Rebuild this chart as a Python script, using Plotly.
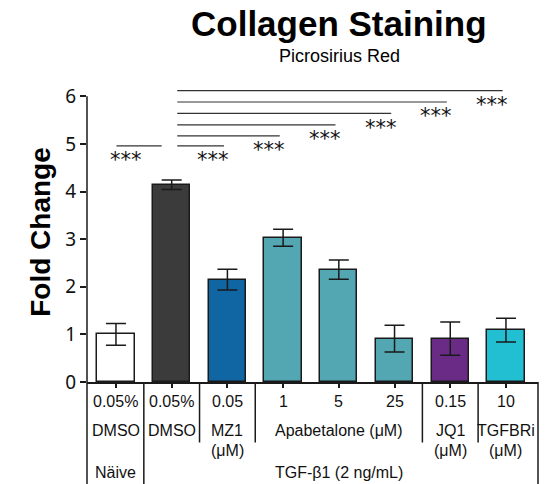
import plotly.graph_objects as go

# ---- data ----
groups = ["Näive DMSO", "TGF DMSO", "MZ1", "Apa 1", "Apa 5", "Apa 25", "JQ1", "TGFBRi"]
fold_change = [1.00, 4.14, 2.15, 3.03, 2.36, 0.91, 0.91, 1.09]
sem = [0.23, 0.10, 0.22, 0.18, 0.20, 0.28, 0.35, 0.25]
bar_colors = ["#ffffff", "#3b3b3b", "#0f66a3", "#52a7b3", "#52a7b3", "#52a7b3", "#6a2b87", "#22bfd3"]

dose_labels = ["0.05%", "0.05%", "0.05", "1", "5", "25", "0.15", "10"]
# (label, first index, last index, second line)
compound_labels = [("DMSO", 0, 0, None), ("DMSO", 1, 1, None), ("MZ1", 2, 2, "(μM)"),
                   ("Apabetalone (μM)", 3, 5, None), ("JQ1", 6, 6, "(μM)"), ("TGFBRi", 7, 7, "(μM)")]
condition_labels = [("Näive", 0, 0), ("TGF-β1 (2 ng/mL)", 1, 7)]

# significance comparisons: (from index, to index, bar height)
sig_pairs = [(0, 1, 4.96), (1, 2, 4.96), (1, 3, 5.17), (1, 4, 5.40), (1, 5, 5.64), (1, 6, 5.88), (1, 7, 6.12)]
sig_text = "***"

y_ticks = [0, 1, 2, 3, 4, 5, 6]

# ---- layout geometry ----
W, H = 553, 484
ML, MR, MT, MB = 87, 15, 82, 102
x_range = [-0.52, 7.575]
y_range = [0, 6.3]
ph = H - MT - MB

def py_to_paper(py):
    return (H - MB - py) / ph

ink = "#1a1a1a"
x = list(range(len(groups)))

fig = go.Figure()
fig.add_trace(go.Bar(
    x=x, y=fold_change, width=0.67,
    marker=dict(color=bar_colors, line=dict(color=ink, width=1.5)),
    error_y=dict(type="data", array=sem, visible=True, color=ink, thickness=1.5, width=10),
    showlegend=False, hoverinfo="skip",
))

shapes = []
annotations = []

# y axis line (0..6) and its extension down through the label table
shapes.append(dict(type="line", xref="paper", yref="y", x0=0, x1=0, y0=0, y1=max(y_ticks),
                   line=dict(color=ink, width=1.5)))
shapes.append(dict(type="line", xref="paper", yref="paper", x0=0, x1=0, y0=0, y1=py_to_paper(484),
                   line=dict(color=ink, width=1.5)))
shapes.append(dict(type="line", xref="paper", yref="paper", x0=1, x1=1, y0=0, y1=py_to_paper(484),
                   line=dict(color=ink, width=1.5)))

# separators between label groups
long_seps = [0.5]
short_seps = [1.5, 2.5, 5.5, 6.5]
for s in long_seps:
    shapes.append(dict(type="line", xref="x", yref="paper", x0=s, x1=s, y0=0, y1=py_to_paper(484),
                       line=dict(color=ink, width=1.5)))
for s in short_seps:
    shapes.append(dict(type="line", xref="x", yref="paper", x0=s, x1=s, y0=0, y1=py_to_paper(442.5),
                       line=dict(color=ink, width=1.5)))

lab_font = dict(family="Liberation Sans, Arial", size=16, color="#111111")
for i, t in enumerate(dose_labels):
    annotations.append(dict(x=i, y=py_to_paper(401), xref="x", yref="paper", text=t,
                            showarrow=False, font=lab_font, xanchor="center", yanchor="middle"))
for t, a, b, t2 in compound_labels:
    annotations.append(dict(x=(a + b) / 2, y=py_to_paper(430), xref="x", yref="paper", text=t,
                            showarrow=False, font=lab_font, xanchor="center", yanchor="middle"))
    if t2:
        annotations.append(dict(x=(a + b) / 2, y=py_to_paper(450), xref="x", yref="paper", text=t2,
                                showarrow=False, font=lab_font, xanchor="center", yanchor="middle"))
for t, a, b in condition_labels:
    annotations.append(dict(x=(a + b) / 2, y=py_to_paper(473), xref="x", yref="paper", text=t,
                            showarrow=False, font=lab_font, xanchor="center", yanchor="middle"))

# significance bars
for a, b, h in sig_pairs:
    x0 = a + (0.01 if a == 0 else 0.1)
    x1 = b - (0.18 if a == 0 else 0.06)
    shapes.append(dict(type="line", xref="x", yref="y", x0=x0, x1=x1, y0=h, y1=h,
                       line=dict(color="#333333", width=1.2)))
    sx = 0.18 if a == 0 else b - 0.25
    annotations.append(dict(x=sx, y=h - 0.30, xref="x", yref="y", text=sig_text, showarrow=False,
                            font=dict(family="DejaVu Sans", size=21, color="#111111"),
                            xanchor="center", yanchor="middle"))

# titles
annotations.append(dict(x=(339 - ML) / (W - ML - MR), y=py_to_paper(24), xref="paper", yref="paper",
                        text="<b>Collagen Staining</b>", showarrow=False,
                        font=dict(family="Liberation Sans, Arial", size=35, color="#000000"),
                        xanchor="center", yanchor="middle"))
annotations.append(dict(x=(339 - ML) / (W - ML - MR), y=py_to_paper(56), xref="paper", yref="paper",
                        text="Picrosirius Red", showarrow=False,
                        font=dict(family="Liberation Sans, Arial", size=18, color="#000000"),
                        xanchor="center", yanchor="middle"))

fig.update_layout(
    width=W, height=H, margin=dict(l=ML, r=MR, t=MT, b=MB, pad=0),
    paper_bgcolor="white", plot_bgcolor="white",
    shapes=shapes, annotations=annotations, bargap=0,
    xaxis=dict(range=x_range, tickvals=x, showticklabels=False, ticks="outside", ticklen=4,
               tickwidth=1.5, tickcolor=ink, showline=True, linecolor=ink, linewidth=1.5,
               showgrid=False, zeroline=False, fixedrange=True),
    yaxis=dict(range=y_range, tickvals=y_ticks, ticks="outside", ticklen=6, tickwidth=1.5,
               tickcolor=ink, showline=False, showgrid=False, zeroline=False,
               tickfont=dict(family="Noto Sans", size=19, color="#111111"),
               title=dict(text="<b>Fold Change</b>", font=dict(family="Liberation Sans, Arial", size=28,
                                                          color="#000000"), standoff=6),
               fixedrange=True),
)

fig.write_html("out.html", config={"displayModeBar": False},
               post_script="document.body.style.margin='0px';")
